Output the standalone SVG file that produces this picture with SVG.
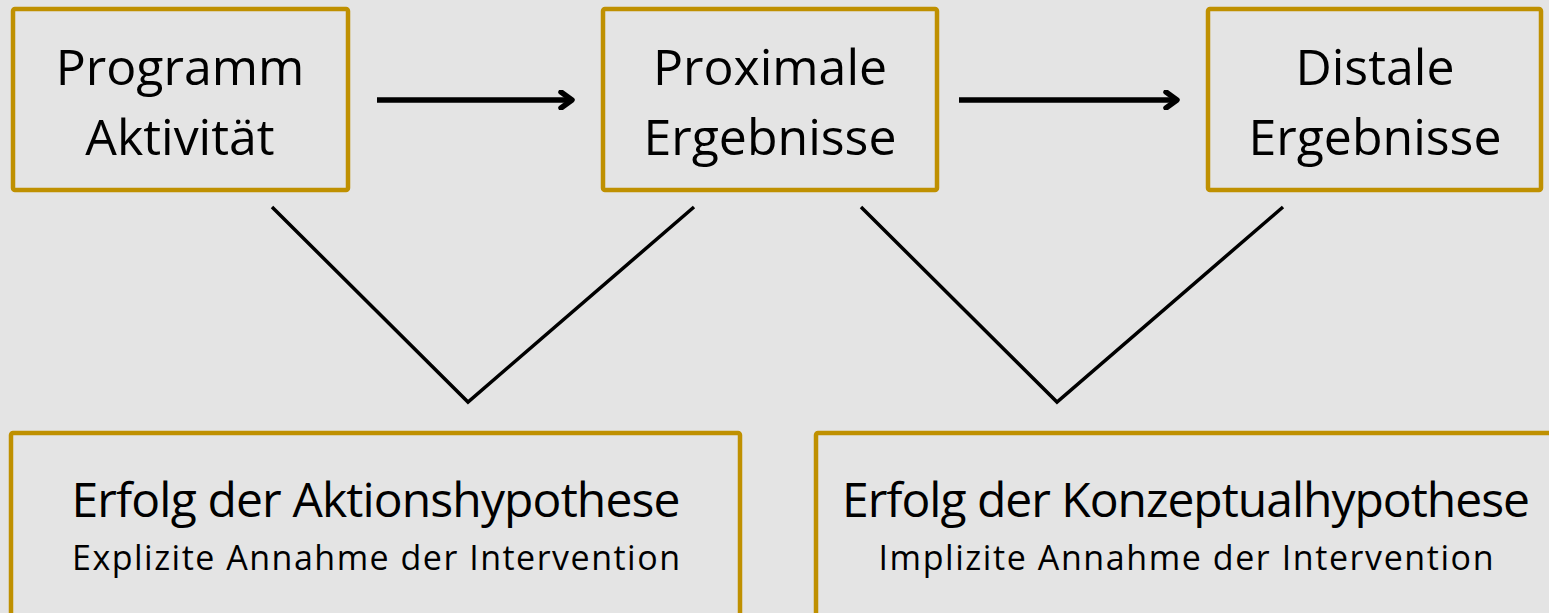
<svg xmlns="http://www.w3.org/2000/svg" width="1549" height="613" viewBox="0 0 1549 613">
<style>
.box{fill:none;stroke:#BF9000;stroke-width:4.5;stroke-linejoin:round}
.t{font-family:"Open Sans","Noto Sans",sans-serif;fill:#000;text-anchor:middle}
.big{font-size:50px}
.mid{font-size:48px}
.small{font-size:34px}
.v{fill:none;stroke:#000;stroke-width:3.5}
.arr{fill:none;stroke:#000;stroke-width:5.5;marker-end:url(#ah)}
</style>
<defs>
<marker id="ah" viewBox="0 0 20 20" refX="15" refY="10" markerWidth="20" markerHeight="20" markerUnits="userSpaceOnUse" orient="auto">
<path d="M4 2 L15 10 L4 18" fill="none" stroke="#000" stroke-width="5.5" stroke-linecap="round" stroke-linejoin="round"/>
</marker>
</defs>
<rect width="1549" height="613" fill="#E4E4E4"/>
<g id="n-programm">
<rect class="box" x="13" y="9" width="335" height="181" rx="2"/>
<text class="t big" x="180" y="85">Programm</text>
<text class="t big" x="180" y="155">Aktivität</text>
</g>
<g id="n-proximale">
<rect class="box" x="603" y="9" width="334" height="181" rx="2"/>
<text class="t big" x="770" y="85">Proximale</text>
<text class="t big" x="770" y="155">Ergebnisse</text>
</g>
<g id="n-distale">
<rect class="box" x="1208" y="9" width="333" height="181" rx="2"/>
<text class="t big" x="1375" y="85">Distale</text>
<text class="t big" x="1375" y="155">Ergebnisse</text>
</g>
<g id="n-aktion">
<rect class="box" x="11" y="433" width="729" height="190" rx="2"/>
<text class="t mid" x="376" y="517" textLength="609">Erfolg der Aktionshypothese</text>
<text class="t small" x="376" y="570" textLength="608">Explizite Annahme der Intervention</text>
</g>
<g id="n-konzept">
<rect class="box" x="816" y="433" width="745" height="190" rx="2"/>
<text class="t mid" x="1186" y="517" textLength="688">Erfolg der Konzeptualhypothese</text>
<text class="t small" x="1186" y="570" textLength="615">Implizite Annahme der Intervention</text>
</g>
<g id="connectors">
<line class="arr" x1="377" y1="100" x2="572" y2="100"/>
<line class="arr" x1="959" y1="100" x2="1177" y2="100"/>
<polyline class="v" points="272,207 468,402 694,207"/>
<polyline class="v" points="861,207 1057,402 1283,207"/>
</g>
</svg>
